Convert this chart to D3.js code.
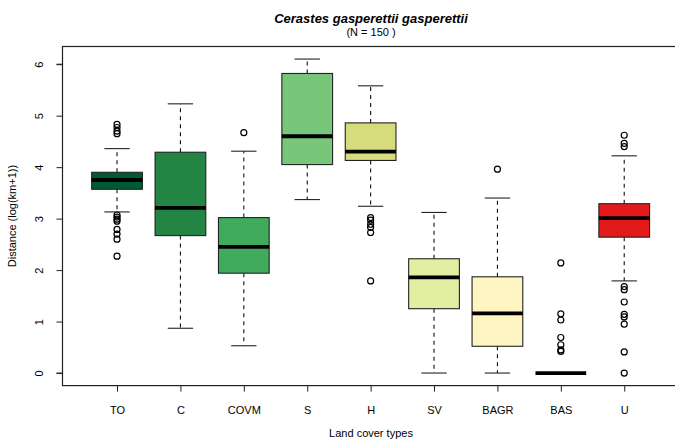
<!DOCTYPE html>
<html>
<head>
<meta charset="utf-8">
<script src="https://cdn.jsdelivr.net/npm/d3@7"></script>
<style>
  body { margin: 0; background: #fff; }
  text { font-family: "Liberation Sans", Arial, sans-serif; }
</style>
</head>
<body>
<script>
let w = 675;
let h = 444;

// land cover types and box stats
let categories = ["TO", "C", "COVM", "S", "H", "SV", "BAGR", "BAS", "U"];
let lowerWhisker = [3.13, 0.87, 0.53, 3.37, 3.24, 0.00, 0.00, 0.00, 1.79];
let q1 = [3.57, 2.67, 1.94, 4.05, 4.13, 1.25, 0.52, 0.00, 2.64];
let medians = [3.75, 3.21, 2.45, 4.60, 4.30, 1.86, 1.16, 0.00, 3.01];
let q3 = [3.90, 4.29, 3.02, 5.82, 4.86, 2.22, 1.87, 0.00, 3.29];
let upperWhisker = [4.36, 5.23, 4.31, 6.10, 5.58, 3.12, 3.40, 0.00, 4.22];
let outliers = [
  [4.83, 4.77, 4.70, 4.65, 3.07, 3.03, 2.99, 2.95, 2.79, 2.70, 2.60, 2.27],
  [],
  [4.67],
  [],
  [3.02, 2.97, 2.89, 2.83, 2.73, 1.79],
  [],
  [3.96],
  [2.14, 1.15, 1.03, 0.69, 0.55, 0.45, 0.42],
  [4.62, 4.46, 4.40, 1.68, 1.62, 1.38, 1.14, 1.09, 0.95, 0.41, 0.00]
];
let colors = ["#005a32", "#238443", "#41ab5d", "#78c679", "#d6dc7c",
  "#e2efa3", "#fff5c3", "#fff5c3", "#e31a1c"];
let yTicks = [0, 1, 2, 3, 4, 5, 6];

let data = categories.map((c, i) => ({
  key: c, idx: i + 1,
  lo: lowerWhisker[i], q1: q1[i], med: medians[i], q3: q3[i], hi: upperWhisker[i],
  out: outliers[i], color: colors[i]
}));

// plot region (R style: 4% padding on both axes)
let plotLeft = 62.5, plotTop = 46.5, plotBottom = 385.6;
let xScale = d3.scaleLinear()
  .domain([0.14, 9.86])
  .range([plotLeft, plotLeft + 9.72 * 63.4]);

let yScale = d3.scaleLinear()
  .domain([-0.244, 6.344])
  .range([plotBottom, plotTop]);

let boxW = xScale(1.8) - xScale(1);   // boxwex 0.8
let capW = boxW / 2;

let svg = d3.select("body")
  .append("svg")
  .attr("width", w)
  .attr("height", h);

// frame
svg.append("rect")
  .attr("x", plotLeft)
  .attr("y", plotTop)
  .attr("width", xScale.range()[1] - plotLeft)
  .attr("height", plotBottom - plotTop)
  .attr("fill", "none")
  .attr("stroke", "#222")
  .attr("stroke-width", 1.2);

let groups = svg.selectAll("g.box")
  .data(data)
  .enter()
  .append("g")
  .attr("class", "box");

// whiskers
groups.append("line")
  .attr("x1", d => xScale(d.idx)).attr("x2", d => xScale(d.idx))
  .attr("y1", d => yScale(d.q3)).attr("y2", d => yScale(d.hi))
  .attr("stroke", "#111").attr("stroke-width", 1.1)
  .attr("stroke-dasharray", "4,4");
groups.append("line")
  .attr("x1", d => xScale(d.idx)).attr("x2", d => xScale(d.idx))
  .attr("y1", d => yScale(d.q1)).attr("y2", d => yScale(d.lo))
  .attr("stroke", "#111").attr("stroke-width", 1.1)
  .attr("stroke-dasharray", "4,4");

// caps
groups.selectAll("line.cap")
  .data(d => [d.lo, d.hi].map(v => ({ v: v, idx: d.idx })))
  .enter()
  .append("line")
  .attr("class", "cap")
  .attr("x1", d => xScale(d.idx) - capW / 2)
  .attr("x2", d => xScale(d.idx) + capW / 2)
  .attr("y1", d => yScale(d.v)).attr("y2", d => yScale(d.v))
  .attr("stroke", "#222").attr("stroke-width", 1.1);

// boxes
groups.append("rect")
  .attr("x", d => xScale(d.idx) - boxW / 2)
  .attr("y", d => yScale(d.q3))
  .attr("width", boxW)
  .attr("height", d => yScale(d.q1) - yScale(d.q3))
  .attr("fill", d => d.color)
  .attr("stroke", "#222")
  .attr("stroke-width", 1.1);

// medians
groups.append("line")
  .attr("x1", d => xScale(d.idx) - boxW / 2)
  .attr("x2", d => xScale(d.idx) + boxW / 2)
  .attr("y1", d => yScale(d.med)).attr("y2", d => yScale(d.med))
  .attr("stroke", "#000").attr("stroke-width", 3.8);

// outliers
groups.selectAll("circle")
  .data(d => d.out.map(v => ({ v: v, idx: d.idx })))
  .enter()
  .append("circle")
  .attr("cx", d => xScale(d.idx))
  .attr("cy", d => yScale(d.v))
  .attr("r", 3)
  .attr("fill", "none")
  .attr("stroke", "#000")
  .attr("stroke-width", 1.2);

// y axis
let yAxis = d3.axisLeft(yScale)
  .tickValues(yTicks)
  .tickSize(6)
  .tickPadding(0)
  .tickFormat(d3.format("d"));
let gy = svg.append("g")
  .attr("transform", "translate(" + plotLeft + ",0)")
  .call(yAxis);
gy.select(".domain")
  .attr("d", "M-6," + yScale(0) + "H0V" + yScale(6) + "H-6")
  .attr("stroke", "#222");
gy.selectAll(".tick line").attr("stroke", "#222");
gy.selectAll(".tick text")
  .attr("x", 0).attr("dy", 0)
  .attr("transform", "translate(-24,0) rotate(-90)")
  .attr("text-anchor", "middle")
  .attr("dominant-baseline", "central")
  .attr("font-size", "11px")
  .attr("fill", "#000");

// x axis
let xAxis = d3.axisBottom(xScale)
  .tickValues(d3.range(1, categories.length + 1))
  .tickSize(6)
  .tickPadding(15)
  .tickFormat(i => categories[i - 1]);
let gx = svg.append("g")
  .attr("transform", "translate(0," + plotBottom + ")")
  .call(xAxis);
gx.select(".domain").remove();
gx.selectAll(".tick line").attr("stroke", "#222");
gx.selectAll(".tick text")
  .attr("font-size", "11px")
  .attr("fill", "#000");

// titles
svg.append("text")
  .attr("x", 371).attr("y", 23)
  .attr("text-anchor", "middle")
  .attr("font-size", "13px")
  .attr("font-weight", "bold")
  .attr("font-style", "italic")
  .text("Cerastes gasperettii gasperettii");
svg.append("text")
  .attr("x", 371).attr("y", 36)
  .attr("text-anchor", "middle")
  .attr("font-size", "11px")
  .text("(N = 150 )");

svg.append("text")
  .attr("x", 371).attr("y", 437)
  .attr("text-anchor", "middle")
  .attr("font-size", "11px")
  .text("Land cover types");

svg.append("text")
  .attr("transform", "translate(16," + ((plotTop + plotBottom) / 2) + ") rotate(-90)")
  .attr("text-anchor", "middle")
  .attr("font-size", "11px")
  .text("Distance (log(km+1))");
</script>
</body>
</html>
